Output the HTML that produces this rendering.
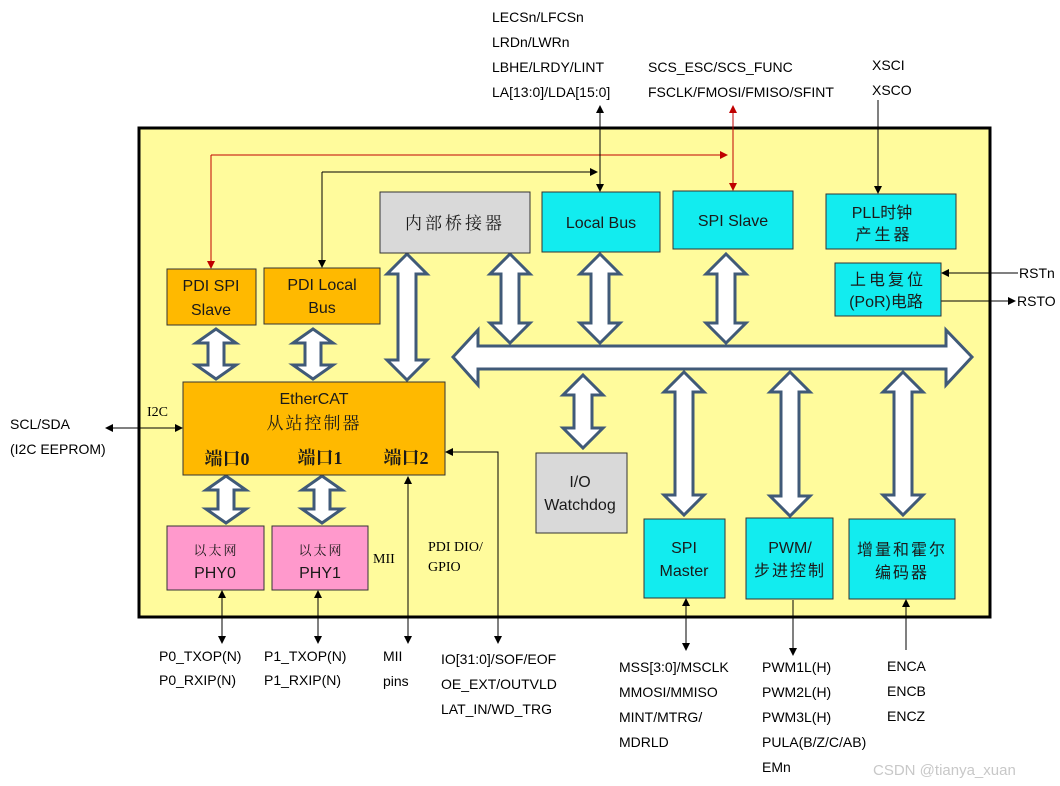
<!DOCTYPE html>
<html><head><meta charset="utf-8"><style>
html,body{margin:0;padding:0;background:#fff;}
svg{display:block;}
.l{font-family:"Liberation Sans","Noto Sans CJK SC",sans-serif;font-size:14px;fill:#000;}
.b{font-family:"Liberation Sans","Noto Sans CJK SC",sans-serif;font-size:16px;fill:#1a1a1a;}
.s{font-family:"Liberation Serif","Noto Serif CJK SC",serif;fill:#1a1a1a;}
.da{fill:#fff;stroke:#405a78;stroke-width:3;stroke-linejoin:miter;}
</style></head><body>
<svg width="1060" height="786" viewBox="0 0 1060 786" xmlns="http://www.w3.org/2000/svg">
<defs>
<marker id="ak" markerWidth="8" markerHeight="8" refX="7" refY="4" orient="auto-start-reverse" markerUnits="userSpaceOnUse"><path d="M0,0 L8,4 L0,8 z" fill="#000"/></marker>
<marker id="ar" markerWidth="8" markerHeight="8" refX="7" refY="4" orient="auto-start-reverse" markerUnits="userSpaceOnUse"><path d="M0,0 L8,4 L0,8 z" fill="#c00000"/></marker>
</defs>
<rect x="139" y="128" width="851" height="489" fill="#fffb9c" stroke="#000" stroke-width="3"/>

<!-- connectors -->
<g fill="none" stroke-width="1">
<polyline points="211,155 727,155" stroke="#c00000" marker-end="url(#ar)"/>
<polyline points="211,155 211,268" stroke="#c00000" marker-end="url(#ar)"/>
<line x1="733" y1="106" x2="733" y2="190" stroke="#c00000" marker-start="url(#ar)" marker-end="url(#ar)"/>
<polyline points="322,172 597,172" stroke="#000" marker-end="url(#ak)"/>
<polyline points="322,172 322,267" stroke="#000" marker-end="url(#ak)"/>
<line x1="600" y1="106" x2="600" y2="191" stroke="#000" marker-start="url(#ak)" marker-end="url(#ak)"/>
<line x1="878" y1="100" x2="878" y2="193" stroke="#000" marker-end="url(#ak)"/>
<line x1="1018" y1="273" x2="942" y2="273" stroke="#000" marker-end="url(#ak)"/>
<line x1="941" y1="301" x2="1015" y2="301" stroke="#000" marker-end="url(#ak)"/>
<line x1="106" y1="428" x2="182" y2="428" stroke="#000" marker-start="url(#ak)" marker-end="url(#ak)"/>
<line x1="408" y1="643" x2="408" y2="477" stroke="#000" marker-start="url(#ak)" marker-end="url(#ak)"/>
<polyline points="498,643 498,452 446,452" stroke="#000" marker-start="url(#ak)" marker-end="url(#ak)"/>
<line x1="222" y1="643" x2="222" y2="591" stroke="#000" marker-start="url(#ak)" marker-end="url(#ak)"/>
<line x1="318" y1="643" x2="318" y2="591" stroke="#000" marker-start="url(#ak)" marker-end="url(#ak)"/>
<line x1="686" y1="650" x2="686" y2="599" stroke="#000" marker-start="url(#ak)" marker-end="url(#ak)"/>
<line x1="793" y1="600" x2="793" y2="655" stroke="#000" marker-end="url(#ak)"/>
<line x1="906" y1="650" x2="906" y2="600" stroke="#000" marker-end="url(#ak)"/>
</g>

<!-- big bus -->
<polygon class="da" points="453,357 478,330 478,346 946,346 946,330 972,357 946,385 946,369 478,369 478,385"/>
<polygon class="da" points="407,254 427,274 416,274 416,360 427,360 407,380 387,360 398,360 398,274 387,274"/>
<polygon class="da" points="510,254 530,274 519,274 519,323 530,323 510,343 490,323 501,323 501,274 490,274"/>
<polygon class="da" points="600,254 620,274 609,274 609,323 620,323 600,343 580,323 591,323 591,274 580,274"/>
<polygon class="da" points="726,254 746,274 735,274 735,323 746,323 726,343 706,323 717,323 717,274 706,274"/>
<polygon class="da" points="583,375 603,395 592,395 592,428 603,428 583,448 563,428 574,428 574,395 563,395"/>
<polygon class="da" points="684,372 704,392 693,392 693,495 704,495 684,515 664,495 675,495 675,392 664,392"/>
<polygon class="da" points="790,372 810,392 799,392 799,496 810,496 790,516 770,496 781,496 781,392 770,392"/>
<polygon class="da" points="903,372 923,392 912,392 912,495 923,495 903,515 883,495 894,495 894,392 883,392"/>
<polygon class="da" points="216,329 236,343 224,343 224,365 236,365 216,379 196,365 208,365 208,343 196,343"/>
<polygon class="da" points="313,329 333,343 321,343 321,365 333,365 313,379 293,365 305,365 305,343 293,343"/>
<polygon class="da" points="226,476 246,490 234,490 234,509 246,509 226,523 206,509 218,509 218,490 206,490"/>
<polygon class="da" points="322,476 342,490 330,490 330,509 342,509 322,523 302,509 314,509 314,490 302,490"/>

<!-- boxes -->
<g stroke="#333" stroke-width="1">
<rect x="380" y="192" width="150" height="61" fill="#d9d9d9"/>
<rect x="542" y="192" width="118" height="60" fill="#12ecef"/>
<rect x="673" y="191" width="120" height="58" fill="#12ecef"/>
<rect x="826" y="194" width="130" height="55" fill="#12ecef"/>
<rect x="835" y="263" width="106" height="53" fill="#12ecef"/>
<rect x="167" y="269" width="89" height="56" fill="#ffb900"/>
<rect x="264" y="268" width="116" height="56" fill="#ffb900"/>
<rect x="183" y="382" width="262" height="93" fill="#ffb900"/>
<rect x="167" y="526" width="97" height="64" fill="#ff99cc"/>
<rect x="272" y="526" width="96" height="64" fill="#ff99cc"/>
<rect x="536" y="453" width="91" height="80" fill="#d9d9d9"/>
<rect x="644" y="519" width="81" height="79" fill="#12ecef"/>
<rect x="746" y="518" width="87" height="81" fill="#12ecef"/>
<rect x="849" y="519" width="106" height="80" fill="#12ecef"/>
</g>

<!-- box text -->
<text class="s" x="455" y="229" font-size="17" text-anchor="middle" letter-spacing="3">内部桥接器</text>
<text class="b" x="601" y="228" text-anchor="middle">Local Bus</text>
<text class="b" x="733" y="226" text-anchor="middle">SPI Slave</text>
<text class="b" x="882" y="218" text-anchor="middle">PLL时钟</text>
<text class="b" x="884" y="240" text-anchor="middle" letter-spacing="3">产生器</text>
<text class="b" x="888" y="285" text-anchor="middle" letter-spacing="3">上电复位</text>
<text class="b" x="886" y="307" text-anchor="middle">(PoR)电路</text>
<text class="b" x="211" y="291" text-anchor="middle">PDI SPI</text>
<text class="b" x="211" y="315" text-anchor="middle">Slave</text>
<text class="b" x="322" y="290" text-anchor="middle">PDI Local</text>
<text class="b" x="322" y="313" text-anchor="middle">Bus</text>
<text class="b" x="314" y="404" text-anchor="middle" font-size="17">EtherCAT</text>
<text class="s" x="314" y="429" text-anchor="middle" font-size="17" letter-spacing="2">从站控制器</text>
<text class="s" x="227" y="465" text-anchor="middle" font-size="18" font-weight="bold">端口0</text>
<text class="s" x="320" y="464" text-anchor="middle" font-size="18" font-weight="bold">端口1</text>
<text class="s" x="406" y="464" text-anchor="middle" font-size="18" font-weight="bold">端口2</text>
<text class="s" x="216" y="555" text-anchor="middle" font-size="13" letter-spacing="2">以太网</text>
<text class="b" x="215" y="578" text-anchor="middle">PHY0</text>
<text class="s" x="321" y="555" text-anchor="middle" font-size="13" letter-spacing="2">以太网</text>
<text class="b" x="320" y="578" text-anchor="middle">PHY1</text>
<text class="b" x="580" y="487" text-anchor="middle">I/O</text>
<text class="b" x="580" y="510" text-anchor="middle">Watchdog</text>
<text class="b" x="684" y="553" text-anchor="middle">SPI</text>
<text class="b" x="684" y="576" text-anchor="middle">Master</text>
<text class="b" x="790" y="553" text-anchor="middle">PWM/</text>
<text class="b" x="790" y="576" text-anchor="middle" letter-spacing="2">步进控制</text>
<text class="b" x="902" y="555" text-anchor="middle" letter-spacing="2">增量和霍尔</text>
<text class="b" x="902" y="578" text-anchor="middle" letter-spacing="2">编码器</text>

<!-- outside labels -->
<g class="l">
<text x="492" y="22">LECSn/LFCSn</text>
<text x="492" y="47">LRDn/LWRn</text>
<text x="492" y="72">LBHE/LRDY/LINT</text>
<text x="492" y="97">LA[13:0]/LDA[15:0]</text>
<text x="648" y="72">SCS_ESC/SCS_FUNC</text>
<text x="648" y="97">FSCLK/FMOSI/FMISO/SFINT</text>
<text x="872" y="70">XSCI</text>
<text x="872" y="95">XSCO</text>
<text x="1019" y="278">RSTn</text>
<text x="1017" y="306">RSTO</text>
<text x="10" y="429">SCL/SDA</text>
<text x="10" y="454">(I2C EEPROM)</text>
<text x="147" y="416" font-family="Liberation Serif,serif">I2C</text>
<text x="373" y="563" font-family="Liberation Serif,serif">MII</text>
<text x="428" y="551" font-family="Liberation Serif,serif">PDI DIO/</text>
<text x="428" y="571" font-family="Liberation Serif,serif">GPIO</text>
<text x="159" y="661">P0_TXOP(N)</text>
<text x="159" y="685">P0_RXIP(N)</text>
<text x="264" y="661">P1_TXOP(N)</text>
<text x="264" y="685">P1_RXIP(N)</text>
<text x="383" y="661">MII</text>
<text x="383" y="686">pins</text>
<text x="441" y="664">IO[31:0]/SOF/EOF</text>
<text x="441" y="689">OE_EXT/OUTVLD</text>
<text x="441" y="714">LAT_IN/WD_TRG</text>
<text x="619" y="672">MSS[3:0]/MSCLK</text>
<text x="619" y="697">MMOSI/MMISO</text>
<text x="619" y="722">MINT/MTRG/</text>
<text x="619" y="747">MDRLD</text>
<text x="762" y="672">PWM1L(H)</text>
<text x="762" y="697">PWM2L(H)</text>
<text x="762" y="722">PWM3L(H)</text>
<text x="762" y="747">PULA(B/Z/C/AB)</text>
<text x="762" y="772">EMn</text>
<text x="887" y="671">ENCA</text>
<text x="887" y="696">ENCB</text>
<text x="887" y="721">ENCZ</text>
</g>
<text x="873" y="775" font-family="Liberation Sans,sans-serif" font-size="15" fill="#c8c8c8">CSDN @tianya_xuan</text>
</svg>
</body></html>
